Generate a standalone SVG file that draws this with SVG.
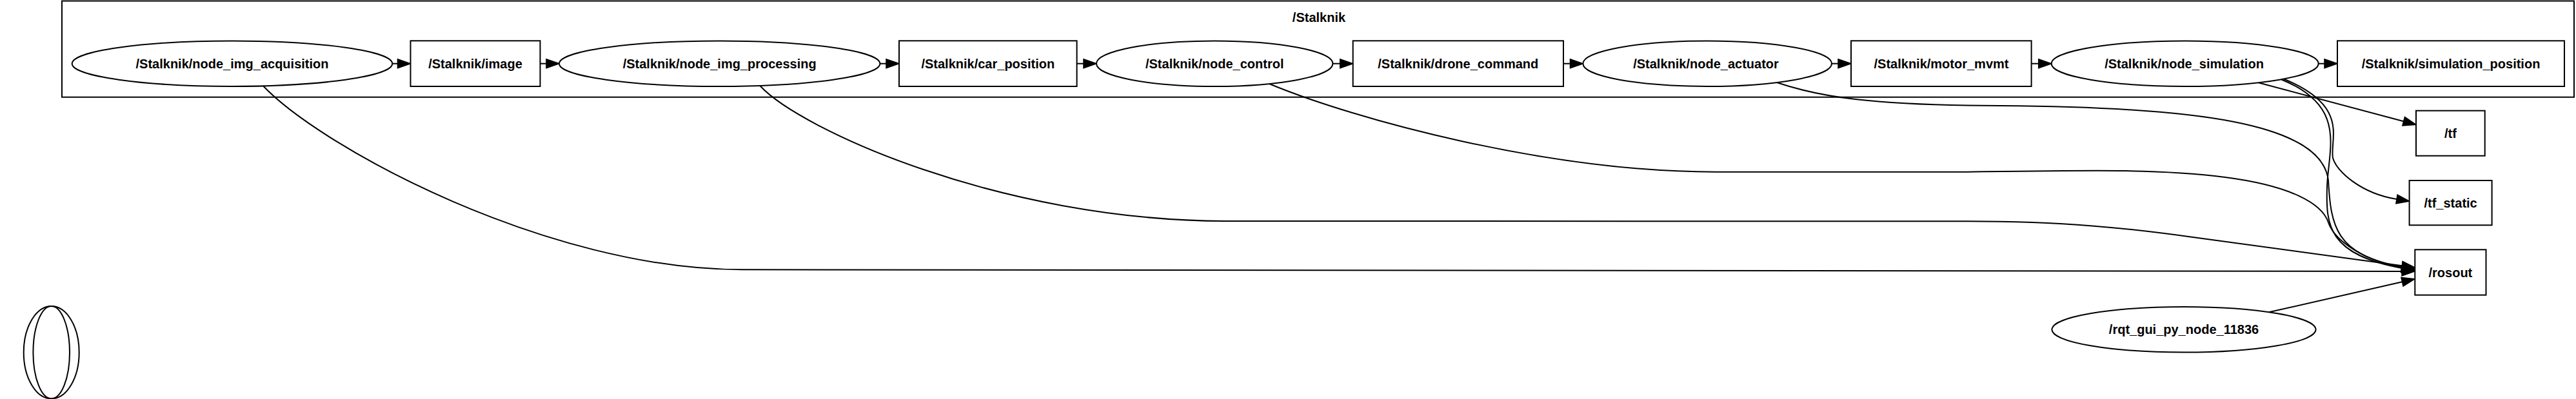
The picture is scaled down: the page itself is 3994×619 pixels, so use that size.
<svg xmlns="http://www.w3.org/2000/svg" width="3994" height="619" viewBox="0 0 3994 619">
<style>
  .shape { fill: #fff; stroke: #000; stroke-width: 2; }
  .cl { fill: none; stroke: #000; stroke-width: 2; }
  text { font-family: "Liberation Sans", Arial, sans-serif; font-size: 20px; font-weight: bold; text-anchor: middle; fill: #000; }
  .edge { fill: none; stroke: #000; stroke-width: 2; marker-end: url(#arrow); }
</style>
<defs>
  <marker id="arrow" markerUnits="userSpaceOnUse" markerWidth="24" markerHeight="18" viewBox="-2 -2 24 18" refX="0" refY="7" orient="auto">
    <path d="M0,0 L20,7 L0,14 Z" fill="#000" stroke="#000" stroke-width="1.5"/>
  </marker>
</defs>
<rect width="3994" height="619" fill="#fff"/>

<g id="cluster_Stalknik">
  <rect class="cl" x="96" y="1.5" width="3895" height="149.2"/>
  <text x="2045" y="34">/Stalknik</text>
</g>

<g id="edges">
  <path class="edge" d="M608.3,98.7 H616.5"/>
  <path class="edge" d="M837.6,98.7 H847"/>
  <path class="edge" d="M1364.5,98.7 H1374"/>
  <path class="edge" d="M1669.6,98.7 H1680"/>
  <path class="edge" d="M2066.5,98.7 H2077.7"/>
  <path class="edge" d="M2424,98.7 H2434.5"/>
  <path class="edge" d="M2840,98.7 H2850"/>
  <path class="edge" d="M3149.6,98.7 H3160.7"/>
  <path class="edge" d="M3594.6,98.7 H3604"/>
  <path class="edge" d="M408,133.3 C500,230 850,418.3 1150,418.3 L3724,421"/>
  <path class="edge" d="M1178.6,133.3 C1240,200 1550,342 1900,343 L3051,343.3 C3200,343.3 3300,354 3400,368 L3724.2,412.3"/>
  <path class="edge" d="M1968,130 C2100,185 2400,266.7 2660,266.7 L3051,266.7 C3250,264 3350,262 3450,275 C3550,288 3600,315 3610,345 C3617,366 3650,400 3724,415"/>
  <path class="edge" d="M2755,128 C2820,150 2900,163.5 3100,164 C3400,166 3600,190 3610,280 C3614,350 3620,395 3724,414"/>
  <path class="edge" d="M3537,123.2 C3640,165 3610,230 3608,290 C3606,350 3610,395 3724,416"/>
  <path class="edge" d="M3541,122.5 C3644,165 3612,215 3617,245 C3622,265 3660,300 3716,309"/>
  <path class="edge" d="M3501.7,128.2 L3726.7,188.2"/>
  <path class="edge" d="M3518,484.3 L3724.5,437.3"/>
</g>

<g id="node_img_acquisition">
  <ellipse class="shape" cx="360" cy="98.7" rx="248.3" ry="35.3"/>
  <text x="360" y="106">/Stalknik/node_img_acquisition</text>
</g>
<g id="topic_image">
  <rect class="shape" x="636.5" y="63.3" width="201" height="70.7"/>
  <text x="737" y="106">/Stalknik/image</text>
</g>
<g id="node_img_processing">
  <ellipse class="shape" cx="1115.7" cy="98.7" rx="248.7" ry="35.3"/>
  <text x="1115.7" y="106">/Stalknik/node_img_processing</text>
</g>
<g id="topic_car_position">
  <rect class="shape" x="1394" y="63.3" width="275.6" height="70.7"/>
  <text x="1531.8" y="106">/Stalknik/car_position</text>
</g>
<g id="node_control">
  <ellipse class="shape" cx="1883.2" cy="98.7" rx="183.2" ry="35.3"/>
  <text x="1883.2" y="106">/Stalknik/node_control</text>
</g>
<g id="topic_drone_command">
  <rect class="shape" x="2097.7" y="63.3" width="326.3" height="70.7"/>
  <text x="2260.8" y="106">/Stalknik/drone_command</text>
</g>
<g id="node_actuator">
  <ellipse class="shape" cx="2647.2" cy="98.7" rx="192.8" ry="35.3"/>
  <text x="2645" y="106">/Stalknik/node_actuator</text>
</g>
<g id="topic_motor_mvmt">
  <rect class="shape" x="2870" y="63.3" width="279.6" height="70.7"/>
  <text x="3010" y="106">/Stalknik/motor_mvmt</text>
</g>
<g id="node_simulation">
  <ellipse class="shape" cx="3387.7" cy="98.7" rx="207" ry="35.3"/>
  <text x="3386.5" y="106">/Stalknik/node_simulation</text>
</g>
<g id="topic_simulation_position">
  <rect class="shape" x="3624" y="63.3" width="352" height="70.7"/>
  <text x="3800" y="106">/Stalknik/simulation_position</text>
</g>
<g id="topic_tf">
  <rect class="shape" x="3746" y="171.7" width="106.7" height="70"/>
  <text x="3799.4" y="213.7">/tf</text>
</g>
<g id="topic_tf_static">
  <rect class="shape" x="3735.6" y="280" width="128" height="69.3"/>
  <text x="3799.6" y="322">/tf_static</text>
</g>
<g id="topic_rosout">
  <rect class="shape" x="3744.3" y="387.3" width="110.2" height="70.4"/>
  <text x="3799.4" y="429.5">/rosout</text>
</g>
<g id="node_rqt_gui">
  <ellipse class="shape" cx="3386" cy="511.3" rx="204.6" ry="35.3"/>
  <text x="3386" y="518.3">/rqt_gui_py_node_11836</text>
</g>
<g id="node_empty">
  <ellipse class="shape" cx="79.7" cy="546.7" rx="43" ry="71.7"/>
  <ellipse class="cl" cx="79.7" cy="546.7" rx="28.3" ry="71.7"/>
</g>
</svg>
